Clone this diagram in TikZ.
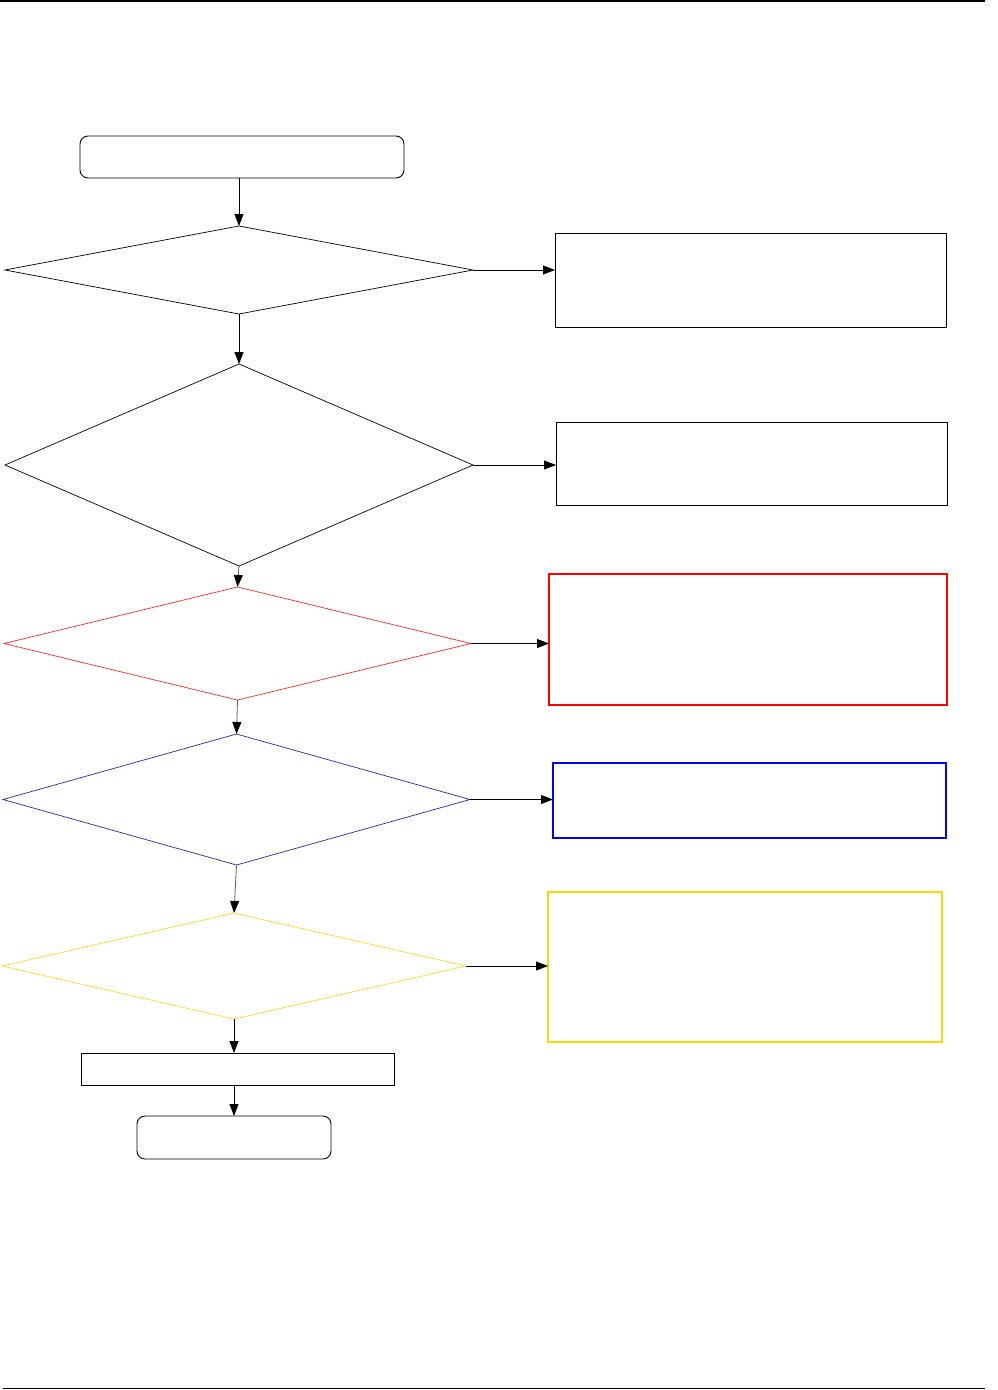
\documentclass[tikz,border=0pt]{standalone}
\usepackage{tikz}
\usetikzlibrary{arrows.meta,shapes.geometric}
\definecolor{dred}{RGB}{255,40,40}
\definecolor{bred}{RGB}{255,0,0}
\definecolor{dblue}{RGB}{40,40,160}
\definecolor{bblue}{RGB}{0,0,255}
\definecolor{dyel}{RGB}{255,215,40}
\definecolor{byel}{RGB}{255,215,0}
\tikzset{
  every node/.style={inner sep=0pt, outer sep=0pt},
  rbox/.style={rectangle, rounded corners=8pt, draw=black, line width=0.9pt},
  pbox/.style={rectangle, draw=black, line width=0.9pt},
  dia/.style={diamond, draw=black, line width=0.7pt},
  arr/.style={line width=0.8pt, -{Triangle[length=12pt,width=9pt,black]}},
  rule/.style={line width=1.5pt, black}
}
\begin{document}
\begin{tikzpicture}[x=1pt,y=-1pt]
\useasboundingbox (0,0) rectangle (998,1390);
\draw[rule] (0,0.75) -- (985,0.75);
\draw[rule] (3,1388.5) -- (985,1388.5);

\node[rbox, minimum width=324pt, minimum height=42pt] (start) at (242,157) {};
\node[dia, minimum width=468pt, minimum height=88pt] (d1) at (239,270) {};
\node[pbox, minimum width=391pt, minimum height=94pt] (b1) at (750.5,280) {};
\node[dia, minimum width=468pt, minimum height=202pt] (d2) at (239,465) {};
\node[pbox, minimum width=391pt, minimum height=83pt] (b2) at (751.5,463.5) {};
\node[dia, draw=dred, minimum width=467pt, minimum height=113pt] (d3) at (237.5,643.5) {};
\node[pbox, draw=bred, line width=2.5pt, minimum width=398pt, minimum height=131pt] (b3) at (748,639.5) {};
\node[dia, draw=dblue, minimum width=467pt, minimum height=131pt] (d4) at (236.5,799.5) {};
\node[pbox, draw=bblue, line width=1.8pt, minimum width=393pt, minimum height=75pt] (b4) at (749.5,800.5) {};
\node[dia, draw=dyel, minimum width=464pt, minimum height=106pt] (d5) at (234,966) {};
\node[pbox, draw=byel, line width=1.2pt, minimum width=394pt, minimum height=150pt] (b5) at (745,967) {};
\node[pbox, minimum width=313pt, minimum height=32pt] (r) at (237.5,1069) {};
\node[rbox, minimum width=194pt, minimum height=43pt] (end) at (234,1137.5) {};

\draw[arr] (start.south -| d1.north) -- (d1.north);
\draw[arr] (d1.south) -- (d2.north);
\draw[arr, gray!70!black] (d2.south) -- (d3.north);
\draw[arr, gray!70!black] (d3.south) -- (d4.north);
\draw[arr, gray!70!black] (d4.south) -- (d5.north);
\draw[arr] (d5.south) -- (r.north -| d5.south);
\draw[arr] (r.south -| end.north) -- (end.north);

\draw[arr] (d1.east) -- (d1.east -| b1.west);
\draw[arr] (d2.east) -- (d2.east -| b2.west);
\draw[arr] (d3.east) -- (d3.east -| b3.west);
\draw[arr] (d4.east) -- (d4.east -| b4.west);
\draw[arr] (d5.east) -- (d5.east -| b5.west);
\end{tikzpicture}
\end{document}
